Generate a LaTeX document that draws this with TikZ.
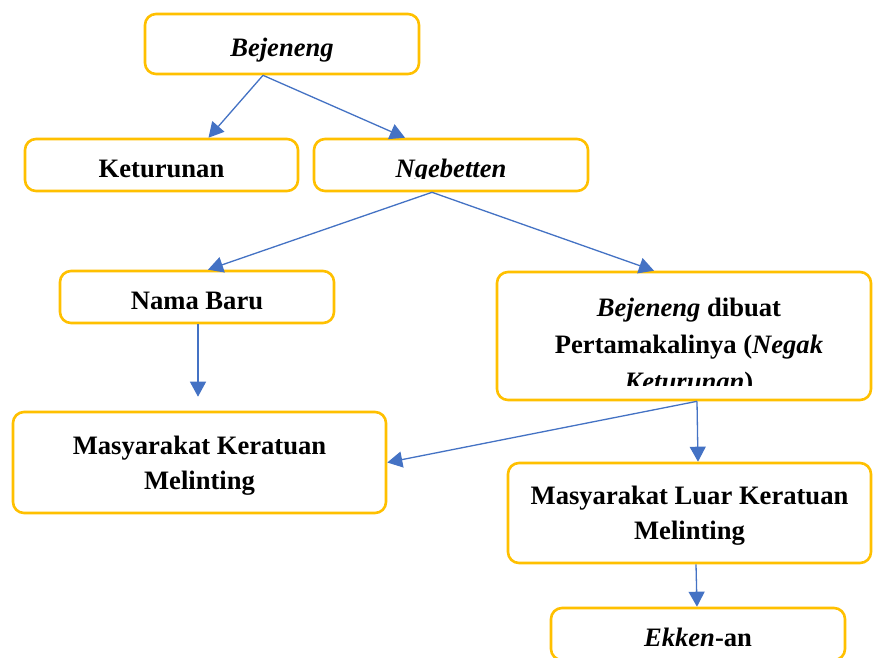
\documentclass[tikz,border=0pt]{standalone}
\usepackage{fontspec}
\setmainfont{Liberation Serif}
\usetikzlibrary{arrows.meta}
\definecolor{emas}{HTML}{FFC000}
\definecolor{biru}{HTML}{4472C4}
\tikzset{
  boxnode/.style={draw=emas, line width=2.6pt, rounded corners=11pt, fill=white,
    align=center, inner sep=0pt, font=\fontsize{26.6}{35}\selectfont\bfseries},
  single/.style={text height=26pt, text depth=2pt},
  double/.style={text depth=0pt},
  boxtext/.style={align=center, inner sep=0pt, font=\fontsize{26.6}{37}\selectfont\bfseries},
  link/.style={draw=biru, line width=1.3pt, -{Triangle[length=15pt,width=16pt]}}
}
\begin{document}
\begin{tikzpicture}[x=1pt, y=-1pt]
\useasboundingbox (0,0) rectangle (873,657);
\clip (0,0) rectangle (873,657);
\fill [white] (0,0) rectangle (873,657);
\node [boxnode, single, minimum width=274pt, minimum height=60pt] (bej) at (282,44) {\textit{Bejeneng}};
\node [boxnode, single, minimum width=273pt, minimum height=52pt] (ket) at (161.5,165) {Keturunan};
\node [boxnode, minimum width=274pt, minimum height=52pt] (ngb) at (451,165) {};
\begin{scope}
  \clip (314,139) rectangle (588,178);
  \node [boxtext, single] (ngbtext) at (451,165) {\textit{Ngebetten}};
\end{scope}
\node [boxnode, single, minimum width=274pt, minimum height=52pt] (nama) at (197,297) {Nama Baru};
\node [boxnode, minimum width=374pt, minimum height=128pt] (buat) at (684,336) {};
\begin{scope}
  \clip (497,272) rectangle (871,385);
  \node [boxtext] (buattext) at (689,347) {\textit{Bejeneng} dibuat\\Pertamakalinya (\textit{Negak}\\\textit{Keturunan})};
\end{scope}
\node [boxnode, double, minimum width=373pt, minimum height=101pt] (krt) at (199.5,462.5) {Masyarakat Keratuan\\Melinting};
\node [boxnode, double, minimum width=363pt, minimum height=100pt] (luar) at (689.5,513) {Masyarakat Luar Keratuan\\Melinting};
\node [boxnode, single, minimum width=294pt, minimum height=52pt] (ekk) at (698,634) {\textit{Ekken}-an};
\draw [link] ([xshift=-19pt]bej.south) -- ([xshift=47pt]ket.north);
\draw [link] ([xshift=-19pt]bej.south) -- ([xshift=-46pt]ngb.north);
\draw [link] ([xshift=-19pt]ngb.south) -- ([xshift=11pt]nama.north);
\draw [link] ([xshift=-19pt]ngb.south) -- ([xshift=-30pt]buat.north);
\draw [link] ([xshift=1pt]nama.south) -- ([xshift=1pt, yshift=14pt]nama.south |- krt.north);
\draw [link] ([xshift=13pt]buat.south) -- (krt.east);
\draw [link] ([xshift=13pt]buat.south) -- ([xshift=8.5pt]luar.north);
\draw [link] ([xshift=6.5pt]luar.south) -- ([xshift=-1pt]ekk.north);
\end{tikzpicture}
\end{document}
